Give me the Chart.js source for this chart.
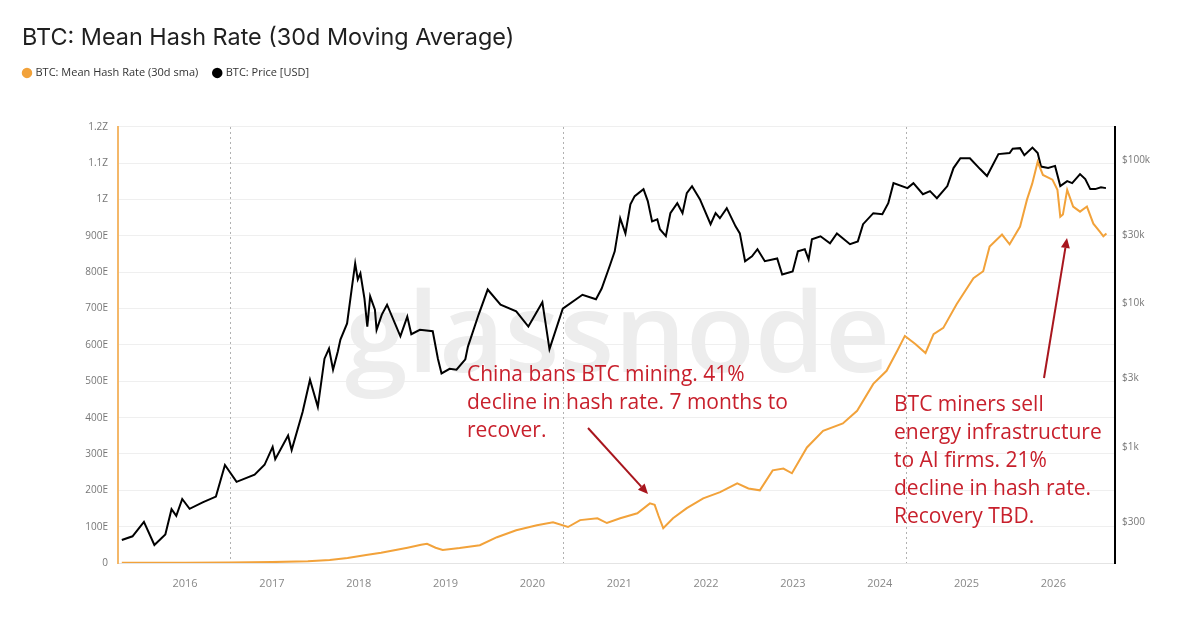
<!DOCTYPE html>
<html>
<head>
<meta charset="utf-8">
<script src="https://cdn.jsdelivr.net/npm/chart.js@4.4.1/dist/chart.umd.min.js"></script>
<style>
  html, body { margin: 0; padding: 0; background: #fff; }
  #wrap { width: 1200px; height: 636px; position: relative; }
</style>
</head>
<body>
<div id="wrap"><canvas id="hashChart"></canvas></div>
<script>
// hash rate, 30d sma (EH/s)
var hashDates = [
  "2015-04-10", "2016-01-01", "2016-07-05", "2017-01-01", "2017-06-01", "2017-09-01",
  "2017-11-15", "2018-02-01", "2018-04-05", "2018-07-25", "2018-09-20", "2018-10-15",
  "2018-11-20", "2018-12-20", "2019-03-01", "2019-05-25", "2019-08-05", "2019-10-25",
  "2020-01-20", "2020-03-28", "2020-05-30", "2020-07-20", "2020-10-01", "2020-11-10",
  "2021-01-05", "2021-03-18", "2021-05-10", "2021-05-30", "2021-06-15", "2021-07-05",
  "2021-08-15", "2021-10-12", "2021-12-20", "2022-03-01", "2022-05-12", "2022-06-28",
  "2022-08-15", "2022-10-08", "2022-11-22", "2022-12-28", "2023-03-01", "2023-05-08",
  "2023-07-30", "2023-09-28", "2023-12-05", "2024-01-30", "2024-03-15", "2024-04-16",
  "2024-05-30", "2024-07-12", "2024-08-15", "2024-09-25", "2024-11-20", "2025-01-30",
  "2025-03-12", "2025-04-08", "2025-05-30", "2025-07-01", "2025-08-14", "2025-09-12",
  "2025-10-04", "2025-10-27", "2025-11-18", "2025-12-28", "2026-01-18", "2026-01-30",
  "2026-02-10", "2026-02-28", "2026-03-25", "2026-04-23", "2026-05-22", "2026-06-18",
  "2026-07-15", "2026-07-30", "2026-08-12"
];
var hashValues = [
  0.4, 0.8, 1.5, 2.5, 5, 8,
  14, 22, 28, 42, 50, 53,
  42, 36, 41, 49, 71, 90,
  104, 112, 99, 118, 123, 110,
  123, 137, 164, 160, 130, 96,
  123, 151, 178, 195, 219, 205,
  200, 255, 260, 247, 318, 364,
  384, 419, 493, 529, 584, 625,
  603, 578, 630, 647, 712, 784,
  803, 871, 904, 877, 926, 1000,
  1044, 1104, 1068, 1055, 1027, 953,
  959, 1027, 981, 967, 981, 934,
  912, 899, 907
];

// price (USD)
var priceDates = [
  "2015-04-10", "2015-05-25", "2015-07-12", "2015-08-25", "2015-10-10", "2015-11-05",
  "2015-11-25", "2015-12-20", "2016-01-20", "2016-03-15", "2016-05-10", "2016-06-17",
  "2016-08-05", "2016-10-20", "2016-12-01", "2017-01-04", "2017-01-15", "2017-03-10",
  "2017-03-25", "2017-05-10", "2017-06-10", "2017-07-13", "2017-08-10", "2017-08-29",
  "2017-09-15", "2017-10-05", "2017-10-16", "2017-11-13", "2017-12-02", "2017-12-17",
  "2017-12-28", "2018-01-08", "2018-01-25", "2018-02-06", "2018-02-18", "2018-03-10",
  "2018-03-17", "2018-04-08", "2018-04-30", "2018-06-25", "2018-07-24", "2018-08-10",
  "2018-09-15", "2018-11-08", "2018-11-30", "2018-12-15", "2019-01-18", "2019-02-16",
  "2019-03-25", "2019-04-05", "2019-05-20", "2019-06-27", "2019-08-20", "2019-10-25",
  "2019-12-15", "2020-02-12", "2020-03-13", "2020-05-08", "2020-07-30", "2020-09-25",
  "2020-10-19", "2020-11-24", "2020-12-13", "2021-01-05", "2021-01-27", "2021-02-17",
  "2021-03-07", "2021-04-13", "2021-05-01", "2021-05-19", "2021-06-10", "2021-06-21",
  "2021-07-16", "2021-08-04", "2021-09-02", "2021-09-24", "2021-10-12", "2021-11-03",
  "2021-12-06", "2022-01-20", "2022-02-10", "2022-02-28", "2022-03-29", "2022-05-05",
  "2022-05-23", "2022-06-14", "2022-07-13", "2022-08-05", "2022-09-05", "2022-10-27",
  "2022-11-17", "2022-12-31", "2023-01-22", "2023-02-20", "2023-03-08", "2023-03-22",
  "2023-04-27", "2023-06-06", "2023-07-05", "2023-08-29", "2023-10-01", "2023-10-23",
  "2023-12-05", "2024-01-12", "2024-02-06", "2024-02-28", "2024-04-27", "2024-05-22",
  "2024-07-01", "2024-07-31", "2024-08-29", "2024-10-12", "2024-11-07", "2024-12-06",
  "2025-01-15", "2025-02-27", "2025-03-28", "2025-05-15", "2025-07-01", "2025-07-14",
  "2025-08-14", "2025-09-01", "2025-10-05", "2025-10-27", "2025-11-10", "2025-12-10",
  "2026-01-08", "2026-01-30", "2026-02-28", "2026-03-21", "2026-04-23", "2026-05-15",
  "2026-06-05", "2026-06-26", "2026-07-20", "2026-08-10"
];
var priceValues = [
  224, 238, 300, 207, 245, 368,
  330, 433, 370, 410, 450, 748,
  570, 640, 750, 1000, 820, 1200,
  950, 1750, 2940, 1900, 4120, 4850,
  3450, 4630, 5600, 7260, 12500, 19000,
  14700, 16200, 10800, 6900, 11200, 9060,
  6550, 8360, 9800, 5900, 8100, 6100,
  6550, 6400, 4100, 3250, 3500, 3450,
  4080, 5000, 8370, 12500, 9800, 8800,
  6900, 10200, 4800, 9200, 11500, 10700,
  12700, 18700, 23100, 39300, 30800, 49200,
  56000, 62700, 51700, 37300, 38600, 32900,
  29500, 42600, 50000, 42600, 58800, 65700,
  53400, 35700, 42600, 39300, 46200, 34500,
  30800, 19700, 21300, 23900, 19700, 20600,
  15900, 16700, 23100, 23900, 20300, 28000,
  29400, 26300, 30800, 25900, 27100, 35700,
  42600, 41900, 50000, 69000, 63700, 69000,
  57800, 60700, 54200, 65800, 87900, 103000,
  103000, 86500, 77300, 110000, 112000, 120000,
  121000, 108000, 122000, 112000, 90000, 88000,
  91000, 65800, 71300, 69000, 79800, 73600,
  62700, 62700, 64500, 63700
];

var yearTicks = [2016, 2017, 2018, 2019, 2020, 2021, 2022, 2023, 2024, 2025, 2026];
var priceTicks = [300, 1000, 3000, 10000, 30000, 100000];
var halvingDates = ["2016-07-09", "2020-05-11", "2024-04-20"];

// date string -> fractional year, used as the x value
function toYear(s) {
  var d = Date.parse(s + "T00:00:00Z");
  var y = new Date(d).getUTCFullYear();
  var a = Date.UTC(y, 0, 1), b = Date.UTC(y + 1, 0, 1);
  return y + (d - a) / (b - a);
}
function toPoints(dates, values) {
  return dates.map(function (d, i) { return { x: toYear(d), y: values[i] }; });
}

var hashColor = "#f2a23a";
var noteColor = "#c8202c";
var arrowColor = "#a8161e";

Chart.defaults.font.family = "'Open Sans', sans-serif";
Chart.defaults.color = "#777";

// title / legend placement
var placeHeader = {
  id: "placeHeader",
  afterLayout: function (chart) {
    if (chart.titleBlock) chart.titleBlock.left = 22;
    var lg = chart.legend;
    if (lg) {
      var h = lg.bottom - lg.top;
      lg.left = 8;
      lg.top = 51.4;
      lg.bottom = lg.top + h;
    }
  },
};

// watermark + halving lines under the series
var backdrop = {
  id: "backdrop",
  beforeDatasetsDraw: function (chart) {
    var ctx = chart.ctx, area = chart.chartArea, xs = chart.scales.x;
    ctx.save();
    ctx.font = "600 110px 'Open Sans', sans-serif";
    var w = ctx.measureText("glassnode").width;
    ctx.translate(345, 372);
    ctx.scale(545 / w, 1);
    ctx.fillStyle = "#ededed";
    ctx.textBaseline = "alphabetic";
    ctx.fillText("glassnode", 0, 0);
    ctx.restore();

    ctx.save();
    ctx.strokeStyle = "#b0b0b0";
    ctx.lineWidth = 1;
    ctx.setLineDash([2, 3]);
    halvingDates.forEach(function (d) {
      var x = Math.round(xs.getPixelForValue(toYear(d))) + 0.5;
      ctx.beginPath();
      ctx.moveTo(x, area.top);
      ctx.lineTo(x, area.bottom);
      ctx.stroke();
    });
    ctx.restore();
  },
};

// hand-written notes and arrows on top
var notes = [
  { x: 467, y: 375, lines: ["China bans BTC mining. 41%", "decline in hash rate. 7 months to", "recover."] },
  { x: 894, y: 405, lines: ["BTC miners sell", "energy infrastructure", "to AI firms. 21%", "decline in hash rate.", "Recovery TBD."] },
];
var arrows = [
  { from: [588, 428], to: [648, 494] },
  { from: [1044, 378], to: [1067, 238] },
];
var overlay = {
  id: "overlay",
  afterDraw: function (chart) {
    var ctx = chart.ctx;
    ctx.save();
    ctx.font = "21px 'Open Sans', sans-serif";
    ctx.fillStyle = noteColor;
    ctx.textBaseline = "middle";
    notes.forEach(function (n) {
      n.lines.forEach(function (t, i) { ctx.fillText(t, n.x, n.y + i * 28); });
    });
    ctx.strokeStyle = arrowColor;
    ctx.fillStyle = arrowColor;
    ctx.lineWidth = 2;
    arrows.forEach(function (a) {
      var dx = a.to[0] - a.from[0], dy = a.to[1] - a.from[1];
      var len = Math.sqrt(dx * dx + dy * dy), ux = dx / len, uy = dy / len;
      var hl = 10, hw = 4.5;
      var bx = a.to[0] - ux * hl, by = a.to[1] - uy * hl;
      ctx.beginPath();
      ctx.moveTo(a.from[0], a.from[1]);
      ctx.lineTo(bx, by);
      ctx.stroke();
      ctx.beginPath();
      ctx.moveTo(a.to[0], a.to[1]);
      ctx.lineTo(bx - uy * hw, by + ux * hw);
      ctx.lineTo(bx + uy * hw, by - ux * hw);
      ctx.closePath();
      ctx.fill();
    });
    ctx.restore();
  },
};

var hashChart = new Chart(document.getElementById("hashChart"), {
  type: "line",
  data: {
    datasets: [
      {
        label: "BTC: Mean Hash Rate (30d sma)",
        data: toPoints(hashDates, hashValues),
        yAxisID: "yHash",
        borderColor: hashColor,
        backgroundColor: hashColor,
        borderWidth: 2,
        pointRadius: 0,
        tension: 0,
      },
      {
        label: "BTC: Price [USD]",
        data: toPoints(priceDates, priceValues),
        yAxisID: "yPrice",
        borderColor: "#000",
        backgroundColor: "#000",
        borderWidth: 2,
        pointRadius: 0,
        tension: 0,
      },
    ],
  },
  options: {
    responsive: true,
    maintainAspectRatio: false,
    animation: false,
    layout: { padding: 0 },
    plugins: {
      title: {
        display: true,
        text: "BTC: Mean Hash Rate (30d Moving Average)",
        align: "start",
        color: "#1f1f1f",
        font: { family: "Inter, 'Open Sans', sans-serif", size: 23.4, weight: "normal" },
        padding: { top: 24, bottom: 37.9 },
      },
      legend: {
        align: "start",
        labels: {
          usePointStyle: true,
          pointStyle: "circle",
          boxWidth: 6,
          boxHeight: 6,
          padding: 16,
          color: "#333",
          font: { size: 11 },
        },
      },
      tooltip: { enabled: false },
    },
    scales: {
      x: {
        type: "linear",
        min: toYear("2015-03-25"),
        max: toYear("2026-09-17"),
        grid: { display: false },
        border: { color: "#e4e4e4", width: 1 },
        ticks: {
          padding: 6,
          color: "#888",
          font: { size: 11 },
          callback: function (v) { return String(v); },
        },
        afterBuildTicks: function (s) {
          s.ticks = yearTicks.map(function (v) { return { value: v }; });
        },
        afterFit: function (s) { s.height = 73; },
      },
      yHash: {
        type: "linear",
        position: "left",
        min: 0,
        max: 1200,
        grid: { color: "#efefef", drawTicks: false },
        border: { color: "#f4b86a", width: 2 },
        ticks: {
          stepSize: 100,
          padding: 10,
          color: "#777",
          font: { size: 10 },
          callback: function (v) {
            if (v === 0) return "0";
            return v < 1000 ? v + "E" : v / 1000 + "Z";
          },
        },
        afterFit: function (s) { s.width = 118; },
      },
      yPrice: {
        type: "logarithmic",
        position: "right",
        min: 155,
        max: 170000,
        grid: { display: false, drawTicks: false },
        border: { color: "#000", width: 2 },
        ticks: {
          padding: 7,
          color: "#777",
          font: { size: 10 },
          callback: function (v) {
            return v >= 1000 ? "$" + v / 1000 + "k" : "$" + v;
          },
        },
        afterBuildTicks: function (s) {
          s.ticks = priceTicks.map(function (v) { return { value: v }; });
        },
        afterFit: function (s) { s.width = 85; },
      },
    },
  },
  plugins: [placeHeader, backdrop, overlay],
});
</script>
</body>
</html>
